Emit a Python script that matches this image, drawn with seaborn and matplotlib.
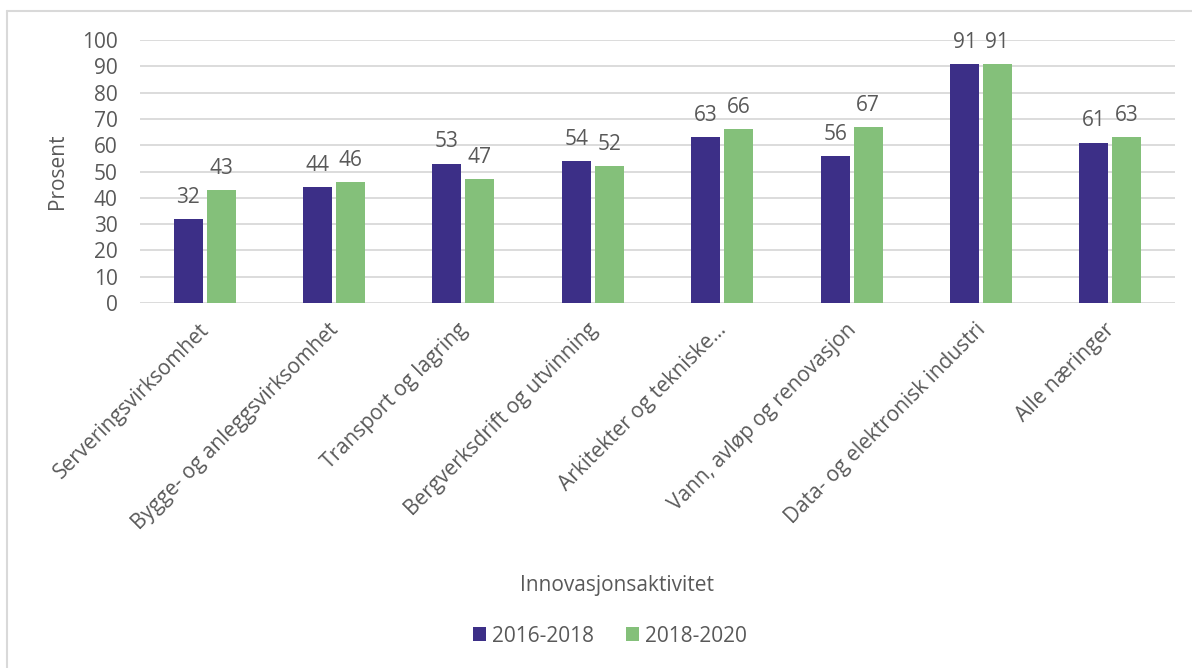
import matplotlib
matplotlib.use("Agg")
import matplotlib.pyplot as plt
import matplotlib.transforms as mtransforms
import seaborn as sns
import pandas as pd
from matplotlib.lines import Line2D
from matplotlib.patches import Patch

categories = [
    "Serveringsvirksomhet",
    "Bygge- og anleggsvirksomhet",
    "Transport og lagring",
    "Bergverksdrift og utvinning",
    "Arkitekter og tekniske…",
    "Vann, avløp og renovasjon",
    "Data- og elektronisk industri",
    "Alle næringer",
]
series_names = ["2016-2018", "2018-2020"]
values_2016_2018 = [32, 44, 53, 54, 63, 56, 91, 61]
values_2018_2020 = [43, 46, 47, 52, 66, 67, 91, 63]
y_ticks = [0, 10, 20, 30, 40, 50, 60, 70, 80, 90, 100]

colors = ["#3C2F87", "#84C07A"]
text_color = "#595959"
grid_color = "#D9D9D9"
fs = 15

df = pd.DataFrame({
    "Kategori": categories * 2,
    "Periode": [series_names[0]] * len(categories) + [series_names[1]] * len(categories),
    "Prosent": values_2016_2018 + values_2018_2020,
})

sns.set_theme(style="white")
plt.rcParams["font.family"] = ["Open Sans", "DejaVu Sans"]

W, H = 1192, 668
fig = plt.figure(figsize=(W / 100, H / 100), dpi=100)
ax = fig.add_axes([140 / W, 1 - 303 / H, (1175 - 140) / W, (303 - 40) / H])

sns.barplot(
    data=df, x="Kategori", y="Prosent", hue="Periode",
    palette=colors, order=categories, hue_order=series_names,
    width=0.51, gap=0.12, ax=ax, legend=False, saturation=1,
    edgecolor="none",
)

ax.set_xlim(-0.5, len(categories) - 0.5)
ax.set_ylim(0, 100)
ax.set_yticks(y_ticks)
ax.set_yticklabels([str(t) for t in y_ticks], fontsize=fs, color=text_color)
ax.yaxis.grid(True, color=grid_color, linewidth=1.3)
ax.set_axisbelow(True)
for s in ax.spines.values():
    s.set_visible(False)
ax.tick_params(axis="both", length=0)
ax.tick_params(axis="y", pad=16)

ax.set_xticks(range(len(categories)))
ax.set_xticklabels(categories, rotation=45, ha="right", rotation_mode="anchor",
                   fontsize=fs, color=text_color)
ax.tick_params(axis="x", pad=12)
shift = mtransforms.ScaledTranslation(-6 / 100, 0, fig.dpi_scale_trans)
for lbl in ax.get_xticklabels():
    lbl.set_transform(lbl.get_transform() + shift)

ax.set_xlabel("Innovasjonsaktivitet", fontsize=fs, color=text_color)
ax.set_ylabel("Prosent", fontsize=fs, color=text_color)
ax.xaxis.set_label_coords((617 - 140) / (1175 - 140), -(575 - 303) / (303 - 40))
ax.yaxis.set_label_coords(-(140 - 68) / (1175 - 140), 0.5)

for container in ax.containers:
    ax.bar_label(container, fmt="%d", padding=8, fontsize=fs, color=text_color)

handles = [Patch(facecolor=c, edgecolor="none") for c in colors]
fig.legend(handles, series_names, loc="center", bbox_to_anchor=(610 / W, 1 - 636 / H),
           ncol=2, frameon=False, fontsize=fs, labelcolor=text_color,
           handlelength=0.62, handleheight=0.62, handletextpad=0.3, columnspacing=1.5)

# chart frame: top and left edges
fig.add_artist(Line2D([7 / W, 7 / W], [0, 1 - 11 / H], transform=fig.transFigure,
                      color=grid_color, linewidth=1.5))
fig.add_artist(Line2D([7 / W, 1], [1 - 11 / H, 1 - 11 / H], transform=fig.transFigure,
                      color=grid_color, linewidth=1.5))

fig.savefig("out.png", dpi=100)
